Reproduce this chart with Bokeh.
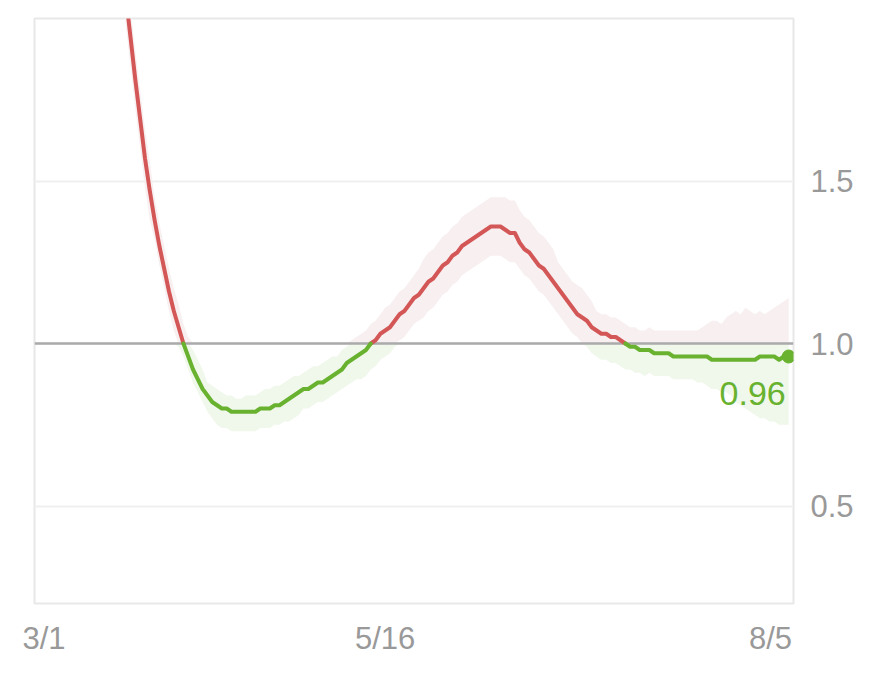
import numpy as np
from bokeh.plotting import figure
from bokeh.models import FixedTicker, Label, Range1d, ColumnDataSource, Spacer
from bokeh.layouts import row
from bokeh.embed import file_html
from bokeh.resources import INLINE

# ---------------- data ----------------
days = list(range(158))  # day index, 3/1 .. 8/5

rt = [5.40, 5.26, 5.11, 4.95, 4.78, 4.60, 4.42, 4.23, 4.04, 3.85,
      3.66, 3.46, 3.26, 3.06, 2.87, 2.69, 2.52, 2.36, 2.21, 2.07,
      1.94, 1.81, 1.69, 1.57, 1.47, 1.38, 1.30, 1.23, 1.16, 1.10,
      1.05, 1.00, 0.96, 0.92, 0.89, 0.86, 0.84, 0.82, 0.81, 0.80,
      0.80, 0.79, 0.79, 0.79, 0.79, 0.79, 0.79, 0.80, 0.80, 0.80,
      0.81, 0.81, 0.82, 0.83, 0.84, 0.85, 0.86, 0.86, 0.87, 0.88,
      0.88, 0.89, 0.90, 0.91, 0.92, 0.94, 0.95, 0.96, 0.97, 0.98,
      1.00, 1.01, 1.03, 1.04, 1.05, 1.07, 1.09, 1.10, 1.12, 1.14,
      1.15, 1.17, 1.19, 1.20, 1.22, 1.24, 1.25, 1.27, 1.28, 1.30,
      1.31, 1.32, 1.33, 1.34, 1.35, 1.36, 1.36, 1.36, 1.35, 1.34,
      1.34, 1.31, 1.29, 1.28, 1.26, 1.24, 1.23, 1.21, 1.19, 1.17,
      1.15, 1.13, 1.11, 1.09, 1.08, 1.07, 1.05, 1.04, 1.03, 1.03,
      1.02, 1.02, 1.01, 1.00, 0.99, 0.99, 0.98, 0.98, 0.98, 0.97,
      0.97, 0.97, 0.97, 0.96, 0.96, 0.96, 0.96, 0.96, 0.96, 0.96,
      0.96, 0.95, 0.95, 0.95, 0.95, 0.95, 0.95, 0.95, 0.95, 0.95,
      0.95, 0.96, 0.96, 0.96, 0.96, 0.95, 0.96, 0.96]

rt_high = [5.49, 5.35, 5.20, 5.04, 4.87, 4.69, 4.51, 4.32, 4.13, 3.94,
           3.75, 3.55, 3.35, 3.15, 2.96, 2.78, 2.61, 2.45, 2.30, 2.16,
           2.03, 1.90, 1.78, 1.66, 1.56, 1.45, 1.37, 1.30, 1.23, 1.17,
           1.12, 1.06, 1.02, 0.98, 0.95, 0.92, 0.88, 0.87, 0.86, 0.85,
           0.84, 0.84, 0.83, 0.83, 0.84, 0.84, 0.84, 0.85, 0.86, 0.86,
           0.87, 0.87, 0.88, 0.89, 0.90, 0.90, 0.91, 0.92, 0.93, 0.93,
           0.94, 0.95, 0.96, 0.96, 0.98, 0.99, 1.01, 1.02, 1.03, 1.04,
           1.06, 1.07, 1.09, 1.11, 1.12, 1.14, 1.16, 1.17, 1.19, 1.21,
           1.23, 1.26, 1.28, 1.29, 1.31, 1.33, 1.34, 1.36, 1.37, 1.39,
           1.40, 1.41, 1.42, 1.43, 1.44, 1.45, 1.45, 1.45, 1.45, 1.44,
           1.44, 1.41, 1.39, 1.38, 1.36, 1.34, 1.33, 1.31, 1.29, 1.25,
           1.23, 1.21, 1.19, 1.18, 1.17, 1.15, 1.13, 1.10, 1.09, 1.09,
           1.08, 1.08, 1.07, 1.06, 1.05, 1.05, 1.04, 1.04, 1.05, 1.04,
           1.04, 1.04, 1.04, 1.04, 1.04, 1.04, 1.04, 1.04, 1.04, 1.05,
           1.06, 1.07, 1.07, 1.06, 1.08, 1.09, 1.10, 1.09, 1.11, 1.10,
           1.09, 1.10, 1.09, 1.10, 1.11, 1.12, 1.13, 1.14]

rt_low = [5.31, 5.17, 5.02, 4.86, 4.69, 4.51, 4.33, 4.14, 3.95, 3.76,
          3.57, 3.37, 3.17, 2.97, 2.78, 2.60, 2.43, 2.27, 2.12, 1.98,
          1.85, 1.72, 1.60, 1.48, 1.38, 1.32, 1.24, 1.17, 1.10, 1.04,
          0.99, 0.96, 0.92, 0.88, 0.85, 0.82, 0.79, 0.77, 0.75, 0.74,
          0.74, 0.73, 0.73, 0.73, 0.73, 0.73, 0.73, 0.74, 0.74, 0.74,
          0.75, 0.75, 0.76, 0.76, 0.77, 0.78, 0.80, 0.80, 0.81, 0.82,
          0.82, 0.83, 0.84, 0.85, 0.86, 0.87, 0.88, 0.89, 0.89, 0.90,
          0.92, 0.93, 0.95, 0.96, 0.97, 0.99, 1.01, 1.02, 1.04, 1.06,
          1.07, 1.08, 1.10, 1.11, 1.13, 1.15, 1.16, 1.18, 1.19, 1.21,
          1.22, 1.23, 1.24, 1.25, 1.26, 1.27, 1.27, 1.27, 1.26, 1.25,
          1.25, 1.23, 1.21, 1.20, 1.18, 1.16, 1.15, 1.13, 1.11, 1.09,
          1.07, 1.05, 1.03, 1.02, 1.00, 0.99, 0.97, 0.96, 0.95, 0.95,
          0.94, 0.94, 0.93, 0.92, 0.92, 0.91, 0.91, 0.90, 0.91, 0.90,
          0.90, 0.90, 0.90, 0.89, 0.89, 0.89, 0.89, 0.89, 0.88, 0.88,
          0.87, 0.86, 0.86, 0.85, 0.85, 0.84, 0.82, 0.81, 0.80, 0.79,
          0.78, 0.77, 0.77, 0.76, 0.76, 0.75, 0.75, 0.75]

x_tick_days = [0.4, 73.0, 153.2]
x_tick_labels = ["3/1", "5/16", "8/5"]
y_ticks = [0.5, 1.0, 1.5]
y_tick_labels = ["0.5", "1.0", "1.5"]
threshold = 1.0

assert len(rt) == len(days) == len(rt_high) == len(rt_low)

# ---------------- styles ----------------
RED = "#d45757"
GREEN = "#68b230"
PINK_BAND = "#f8eff0"
GREEN_BAND = "#f0f7eb"
TICK_COLOR = "#999999"
FONT = "Liberation Sans"

# split the line into the part above / below the threshold
x = np.array(days, dtype=float)
y = np.array(rt, dtype=float)
xs, ys = [x[0]], [y[0]]
for i in range(len(x) - 1):
    a, b = y[i] - threshold, y[i + 1] - threshold
    if a * b < 0:
        t = a / (a - b)
        xs.append(x[i] + t * (x[i + 1] - x[i]))
        ys.append(threshold)
    xs.append(x[i + 1])
    ys.append(y[i + 1])
xs = np.array(xs)
ys = np.array(ys)
red_y = np.where(ys >= threshold, ys, np.nan)
green_y = np.where(ys <= threshold, ys, np.nan)

lo = np.array(rt_low)
hi = np.array(rt_high)
band = ColumnDataSource(dict(
    x=x,
    up_lo=np.maximum(lo, threshold), up_hi=np.maximum(hi, threshold),
    dn_lo=np.minimum(lo, threshold), dn_hi=np.minimum(hi, threshold),
))

p = figure(width=842, height=668, output_backend="svg", toolbar_location=None,
           x_range=Range1d(0, 158), y_range=Range1d(0.2, 2.0),
           y_axis_location="right",
           min_border_left=12, min_border_right=71, min_border_top=18,
           min_border_bottom=65)
p.outline_line_color = "#e8e8e8"
p.outline_line_width = 2
p.background_fill_color = "white"
p.border_fill_color = "white"

p.xgrid.grid_line_color = None
p.ygrid.ticker = FixedTicker(ticks=y_ticks)
p.ygrid.grid_line_color = "#efefef"
p.ygrid.grid_line_width = 2

# bands
p.varea(x="x", y1="up_lo", y2="up_hi", source=band, fill_color=PINK_BAND)
p.varea(x="x", y1="dn_lo", y2="dn_hi", source=band, fill_color=GREEN_BAND)

# threshold line
p.hspan(y=[threshold], line_color="#aaaaaa", line_width=2.5)

# Rt line
p.line(xs, red_y, line_color=RED, line_width=4, line_join="round", line_cap="round")
p.line(xs, green_y, line_color=GREEN, line_width=4, line_join="round", line_cap="round")

# last point
p.scatter(x=[days[-1]], y=[rt[-1]], size=13, fill_color=GREEN, line_color=GREEN)
p.add_layout(Label(x=days[-1], y=rt[-1], text=f"{rt[-1]:.2f}",
                   x_offset=-3, y_offset=-37, text_align="right",
                   text_baseline="middle", text_font=FONT,
                   text_font_size="34px", text_color=GREEN))

# axes
for ax in (p.xaxis[0], p.yaxis[0]):
    ax.axis_line_color = None
    ax.major_tick_line_color = None
    ax.minor_tick_line_color = None
    ax.major_tick_out = 0
    ax.major_tick_in = 0
    ax.major_label_text_color = TICK_COLOR
    ax.major_label_text_font = FONT
    ax.major_label_text_font_size = "31px"

p.xaxis.ticker = FixedTicker(ticks=x_tick_days)
p.xaxis.major_label_overrides = {t: l for t, l in zip(x_tick_days, x_tick_labels)}
p.xaxis.major_label_standoff = 17
p.yaxis.ticker = FixedTicker(ticks=y_ticks)
p.yaxis.major_label_overrides = {t: l for t, l in zip(y_ticks, y_tick_labels)}
p.yaxis.major_label_standoff = 17

layout = row(Spacer(width=22, height=668), p)
open("out.html", "w").write(file_html(layout, INLINE))
